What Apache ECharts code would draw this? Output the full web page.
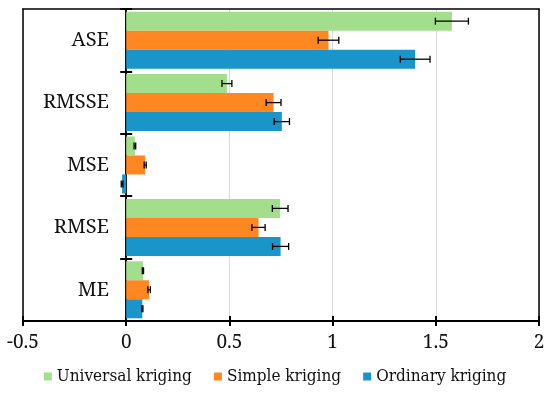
<!DOCTYPE html>
<html><head><meta charset="utf-8">
<script src="https://cdn.jsdelivr.net/npm/echarts@6/dist/echarts.min.js"></script>
<style>html,body{margin:0;padding:0;background:#fff}#c{width:550px;height:394px}</style>
</head><body><div id="c"></div>
<script>
const categories = ['ME', 'RMSE', 'MSE', 'RMSSE', 'ASE'];
const universal = [0.081, 0.746, 0.042, 0.488, 1.578];
const universalErr = [0.003, 0.038, 0.004, 0.024, 0.080];
const simple = [0.111, 0.641, 0.092, 0.714, 0.980];
const simpleErr = [0.006, 0.032, 0.005, 0.036, 0.050];
const ordinary = [0.078, 0.748, -0.020, 0.754, 1.400];
const ordinaryErr = [0.003, 0.039, 0.004, 0.037, 0.072];
const xTicks = [-0.5, 0, 0.5, 1, 1.5, 2];

const FONT_AXIS = 'Noto Serif';
const FONT_LEGEND = 'DejaVu Serif Condensed';
const GAP = 0.086;
const colors = {U: '#A3DE8C', S: '#FF8722', O: '#1A95C9'};

function errSeries(vals, errs, k) {
  return {
    type: 'custom', xAxisIndex: 0, yAxisIndex: 0, z: 10, silent: true,
    data: vals.map((v, i) => [v, i, errs[i]]),
    renderItem: function (params, api) {
      const v = api.value(0), ci = api.value(1), e = api.value(2);
      const c = api.coord([v, ci]);
      const band = api.size([0, 1])[1];
      const bw = band * (1 - GAP) / 3;
      const y = c[1] + k * bw;
      const xl = api.coord([v - e, ci])[0];
      const xr = api.coord([v + e, ci])[0];
      const st = {stroke: '#000', lineWidth: 1.3};
      return {type: 'group', children: [
        {type: 'line', shape: {x1: xl, y1: y, x2: xr, y2: y}, style: st},
        {type: 'line', shape: {x1: xl, y1: y - 3.5, x2: xl, y2: y + 3.5}, style: st},
        {type: 'line', shape: {x1: xr, y1: y - 3.5, x2: xr, y2: y + 3.5}, style: st}
      ]};
    }
  };
}

const lineOnly = {show: false};
const chart = echarts.init(document.getElementById('c'));
chart.setOption({
  animation: false,
  grid: {left: 23, right: 11, top: 9, bottom: 73, containLabel: false, outerBoundsMode: 'none'},
  legend: {
    bottom: 4, left: 'center',
    data: ['Universal kriging', 'Simple kriging', 'Ordinary kriging'],
    icon: 'rect', itemWidth: 8, itemHeight: 8, itemGap: 22,
    textStyle: {fontFamily: FONT_LEGEND, fontSize: 17, color: '#111'}
  },
  xAxis: [{
    type: 'value', min: -0.5, max: 2, interval: 0.5,
    axisLine: {show: true, onZero: false, lineStyle: {color: '#000', width: 2}},
    axisTick: {show: true, inside: false, length: 5, lineStyle: {color: '#000', width: 2}},
    axisLabel: {fontFamily: FONT_AXIS, fontSize: 19, color: '#111', margin: 12,
      formatter: v => { const t = xTicks.find(x => Math.abs(x - v) < 1e-9); return t === undefined ? '' : String(t); }},
    splitLine: {show: true, lineStyle: {color: '#d9d9d9', width: 1}}
  }, {
    type: 'value', min: -0.5, max: 2, interval: 0.5, position: 'bottom',
    axisLine: {show: true, onZero: false, lineStyle: {color: '#000', width: 2}},
    axisTick: {show: true, inside: true, length: 5, lineStyle: {color: '#000', width: 2}},
    axisLabel: {show: false}, splitLine: {show: false}
  }, {
    type: 'value', min: -0.5, max: 2, interval: 0.5, position: 'top',
    axisLine: {show: true, onZero: false, lineStyle: {color: '#000', width: 1.5}},
    axisTick: lineOnly, axisLabel: lineOnly, splitLine: lineOnly
  }],
  yAxis: [{
    type: 'category', data: categories, position: 'left',
    axisLine: {show: true, onZero: false, lineStyle: {color: '#000', width: 1.5}},
    axisTick: {show: false},
    axisLabel: {fontFamily: FONT_AXIS, fontSize: 20, color: '#111', margin: -86},
    splitLine: {show: false}
  }, {
    type: 'category', data: categories,
    axisLine: {show: true, onZero: true, onZeroAxisIndex: 0, lineStyle: {color: '#000', width: 1.5}},
    axisTick: {show: true, inside: false, length: 6, lineStyle: {color: '#000', width: 2}},
    axisLabel: {show: false}, splitLine: {show: false}
  }, {
    type: 'category', data: categories,
    axisLine: {show: true, onZero: true, onZeroAxisIndex: 0, lineStyle: {color: '#000', width: 1.5}},
    axisTick: {show: true, inside: true, length: 6, lineStyle: {color: '#000', width: 2}},
    axisLabel: {show: false}, splitLine: {show: false}
  }, {
    type: 'category', data: categories, position: 'right',
    axisLine: {show: true, onZero: false, lineStyle: {color: '#000', width: 1.5}},
    axisTick: lineOnly, axisLabel: lineOnly, splitLine: lineOnly
  }],
  series: [
    {name: 'Universal kriging', type: 'bar', data: universal, itemStyle: {color: colors.U}, barGap: '0%', barCategoryGap: (GAP * 100) + '%'},
    {name: 'Simple kriging', type: 'bar', data: simple, itemStyle: {color: colors.S}},
    {name: 'Ordinary kriging', type: 'bar', data: ordinary, itemStyle: {color: colors.O}},
    errSeries(universal, universalErr, -1),
    errSeries(simple, simpleErr, 0),
    errSeries(ordinary, ordinaryErr, 1)
  ]
});
</script></body></html>
